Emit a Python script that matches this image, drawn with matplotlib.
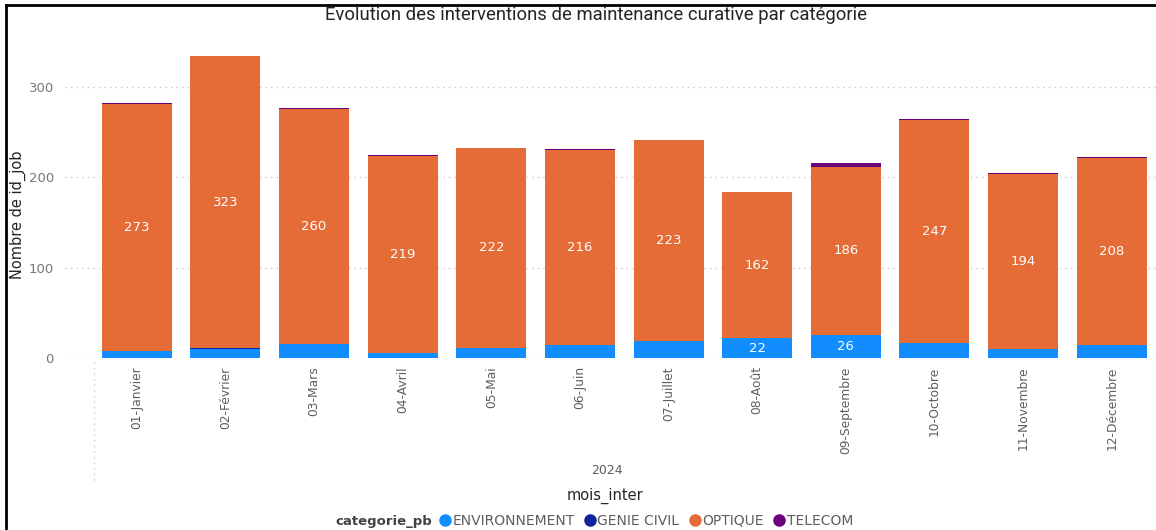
import numpy as np
import matplotlib.pyplot as plt
from matplotlib.lines import Line2D

# data
mois = ["01-Janvier", "02-Février", "03-Mars", "04-Avril", "05-Mai", "06-Juin",
        "07-Juillet", "08-Août", "09-Septembre", "10-Octobre", "11-Novembre", "12-Décembre"]
environnement = [8, 10, 16, 5, 11, 14, 19, 22, 26, 17, 10, 14]
genie_civil = [0, 1, 0, 0, 0, 0, 0, 0, 0, 0, 0, 0]
optique = [273, 323, 260, 219, 222, 216, 223, 162, 186, 247, 194, 208]
telecom = [1, 1, 1, 1, 0, 2, 0, 0, 4, 1, 1, 1]

categories = ["ENVIRONNEMENT", "GENIE CIVIL", "OPTIQUE", "TELECOM"]
couleurs = ["#118DFF", "#12239E", "#E66C37", "#6B007B"]
series = [environnement, genie_civil, optique, telecom]

W, H = 1156, 530
fig = plt.figure(figsize=(W / 100, H / 100), dpi=100)
ax = fig.add_axes([65 / W, 1 - 358 / H, (W - 65) / W, (358 - 42) / H])

x = np.arange(len(mois))
bottom = np.zeros(len(mois))
for vals, col in zip(series, couleurs):
    vals = np.array(vals)
    ax.bar(x, vals, bottom=bottom, width=0.79, color=col, edgecolor="none")
    bottom += vals

# data labels
env = np.array(environnement)
opt = np.array(optique)
gc = np.array(genie_civil)
for i in range(len(mois)):
    ax.text(x[i], env[i] + gc[i] + opt[i] / 2, str(opt[i]), ha="center", va="center",
            color="white", fontsize=9.5)
    if env[i] >= 20:
        ax.text(x[i], env[i] / 2, str(env[i]), ha="center", va="center",
                color="white", fontsize=9.5)

ax.set_xlim(-0.81, 11.5)
ax.set_ylim(0, 350)
ax.set_yticks([0, 100, 200, 300])
ax.set_xticks(x)
ax.set_xticklabels(mois, rotation=90, fontsize=8.8, color="#605E5C")
ax.tick_params(axis="y", labelsize=9.5, colors="#777777", length=0, pad=8)
ax.tick_params(axis="x", length=0, pad=6)
for s in ax.spines.values():
    s.set_visible(False)
ax.yaxis.grid(True, linestyle=(0, (1, 3)), color="#C8C8C8", linewidth=1)
ax.set_axisbelow(True)

fig.text(18 / W, 1 - 215 / H, "Nombre de id_job", rotation=90, ha="center", va="center",
         fontsize=10.5, color="#252423")
fig.text(596 / W, 1 - 15 / H, "Evolution des interventions de maintenance curative par catégorie",
         ha="center", va="center", fontsize=13.3, color="#252423", family="Roboto")
fig.text(607 / W, 1 - 470 / H, "2024", ha="center", va="center", fontsize=9, color="#605E5C")
fig.text(605 / W, 1 - 496 / H, "mois_inter", ha="center", va="center", fontsize=10.5,
         color="#252423")

# hierarchy separator
fig.add_artist(Line2D([94 / W, 94 / W], [1 - 362 / H, 1 - 482 / H],
                      linestyle=(0, (1, 3)), color="#C8C8C8", linewidth=1))

# legend
fig.text(432 / W, 1 - 521 / H, "categorie_pb", ha="right", va="center", fontsize=9.5,
         fontweight="bold", color="#444444")
handles = [Line2D([], [], marker="o", linestyle="", color=c, markersize=8) for c in couleurs]
leg = fig.legend(handles, categories, loc="center left", bbox_to_anchor=(439 / W, 1 - 521 / H),
                 ncol=4, frameon=False, fontsize=10, handlelength=0.8, handletextpad=0.15,
                 columnspacing=0.7, borderpad=0, borderaxespad=0)
for t in leg.get_texts():
    t.set_color("#605E5C")

# frame
fig.add_artist(Line2D([6 / W, 6 / W], [0, 1 - 5 / H], color="black", linewidth=2))
fig.add_artist(Line2D([6 / W, 1], [1 - 5 / H, 1 - 5 / H], color="black", linewidth=2))

fig.savefig("out.png", dpi=100)
